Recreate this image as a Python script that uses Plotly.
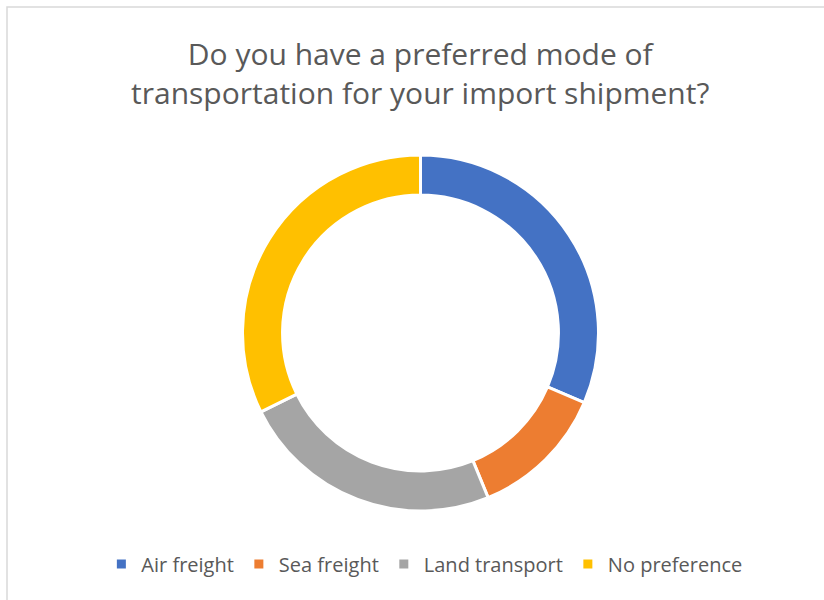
import plotly.graph_objects as go

categories = ["Air freight", "Sea freight", "Land transport", "No preference"]
values = [31.4, 12.4, 23.9, 32.3]
colors = ["#4472C4", "#ED7D31", "#A5A5A5", "#FFC000"]
title_text = "Do you have a preferred mode of<br>transportation for your import shipment?"

W, H = 824, 600
cx, cy, r = 420.5, 333, 178

fig = go.Figure(go.Pie(
    labels=categories, values=values, sort=False, direction="clockwise", rotation=0,
    hole=0.775, textinfo="none", hoverinfo="label+percent",
    marker=dict(colors=colors, line=dict(color="white", width=3)),
    domain=dict(x=[(cx - r) / W, (cx + r) / W], y=[(H - cy - r) / H, (H - cy + r) / H]),
))

fig.update_layout(
    width=W, height=H, margin=dict(l=0, r=0, t=0, b=0),
    paper_bgcolor="white", plot_bgcolor="white",
    font=dict(family="Open Sans, sans-serif", color="#595959"),
    title=dict(text=title_text, x=0.51, xanchor="center", y=1 - 65 / H, yanchor="middle",
               font=dict(size=30, color="#595959")),
    showlegend=True,
    legend=dict(orientation="h", x=0.515, xanchor="center", y=1 - 564 / H, yanchor="middle",
                font=dict(size=20, color="#595959"), itemwidth=30),
    shapes=[dict(type="rect", xref="paper", yref="paper", x0=7 / W, y0=1 - 7 / H, x1=1.05, y1=-0.05,
                 line=dict(color="#D9D9D9", width=1.5), fillcolor="rgba(0,0,0,0)", layer="below")],
)

fig.write_html("out.html", config={"displayModeBar": False},
               post_script="document.body.style.margin='0';document.body.style.overflow='hidden';")
